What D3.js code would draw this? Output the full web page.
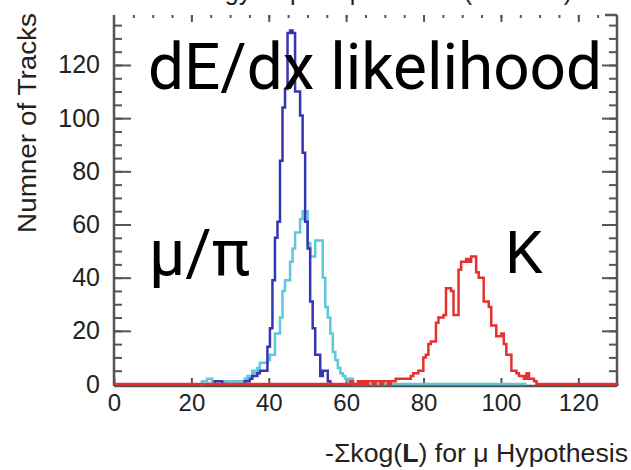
<!DOCTYPE html>
<html>
<head>
<meta charset="utf-8">
<script src="https://cdn.jsdelivr.net/npm/d3@7"></script>
<style>
  html, body { margin: 0; padding: 0; background: #fff; }
  svg { display: block; }
</style>
</head>
<body>
<svg id="chart" width="631" height="470"></svg>
<script>
// Histogram binning: 200 bins over 0..130
const xRange = [0, 130];
const binCount = 200;

// Muon sample (dark blue), counts per bin starting at muonStartBin
const muonStartBin = 37;
const muonCounts = [0, 0, 0, 1, 1, 1, 0, 0, 0, 0, 0, 0, 0, 0, 0, 1, 1, 2, 3, 3,
  4, 5, 5, 5, 14, 21, 39, 55, 61, 84, 104, 111, 132, 133, 132, 110, 110, 101, 87, 61,
  51, 31, 21, 11, 11, 3, 5, 5, 1, 0];

// Pion sample (light cyan)
const pionStartBin = 34;
const pionCounts = [0, 1, 1, 2, 2, 1, 1, 1, 1, 0, 1, 1, 1, 1, 1, 1, 1, 1, 2, 3,
  3, 5, 4, 6, 8, 8, 8, 9, 11, 11, 19, 19, 25, 35, 39, 39, 46, 51, 57, 57,
  62, 65, 65, 53, 48, 48, 54, 54, 54, 40, 29, 25, 19, 12, 9, 6, 4, 3, 2, 1,
  2, 0, 0, 0, 0, 0, 0, 0, 0, 0, 0, 0, 0, 0, 0, 0, 0, 0, 0, 0,
  0, 0, 0, 0, 0, 0, 0, 0, 0, 0, 0, 0, 0, 0, 0, 0, 0, 0, 0, 0,
  0, 0, 0, 0, 0, 0, 0, 0, 0, 0, 0, 0, 0, 0, 0, 0, 0, 0, 0, 0,
  0, 0, 0, 0, 0, 0, 0, 0, 0, 0];

// Kaon sample (red), drawn over the full range
const kaonStartBin = 92;
const kaonCounts = [0, 0, 1, 0, 0, 1, 0, 1, 0, 1, 1, 0, 1, 1, 0, 1, 1, 0, 1, 1,
  2, 2, 2, 2, 2, 2, 3, 4, 4, 5, 5, 10, 11, 15, 16, 16, 23, 25, 25, 26,
  36, 36, 35, 26, 26, 43, 46, 46, 47, 46, 48, 48, 42, 40, 40, 31, 31, 29, 22, 22,
  18, 18, 19, 15, 11, 11, 5, 5, 4, 3, 3, 2, 4, 2, 2, 1, 0];

// Axis ticks
const xMajorTicks = [0, 20, 40, 60, 80, 100, 120];
const yMajorTicks = [0, 20, 40, 60, 80, 100, 120];

// Text
const titleText = "Energy Deposit per Plane (MeV/cm)";
const yTitle = "Numner of Tracks";
const bigLabel = "dE/dx likelihood";
const muPiLabel = "μ/π";
const kaonLabel = "K";

const svg = d3.select("#chart");
const plotLeft = 114, plotRight = 617, plotTop = 15, plotBottom = 384;

const x = d3.scaleLinear().domain(xRange).range([plotLeft, plotRight]);
const y = d3.scaleLinear().domain([0, 138.8]).range([plotBottom, plotTop]);
const binW = (xRange[1] - xRange[0]) / binCount;

function histPoints(start, counts, firstBin, lastBin) {
  const pts = [];
  for (let i = firstBin; i <= lastBin; i++) {
    const j = i - start;
    const v = (j >= 0 && j < counts.length) ? counts[j] : 0;
    const x0 = xRange[0] + i * binW, x1 = x0 + binW;
    pts.push([x0, v], [x1, v]);
  }
  return pts;
}

const line = d3.line().x(d => x(d[0])).y(d => y(d[1]));
const axisFont = "Liberation Sans, Arial, sans-serif";

// Title, running off the top edge
svg.append("text")
  .attr("x", 172).attr("y", 0)
  .attr("font-family", axisFont)
  .attr("font-size", 25).attr("fill", "#222")
  .text(titleText);

// Axis ticks
const tickColor = "#555";
const gLeft = svg.append("g").attr("transform", `translate(${plotLeft},0)`)
  .call(d3.axisLeft(y).tickValues(d3.range(0, 139, 5)).tickSizeInner(-8).tickSizeOuter(0).tickFormat(""));
gLeft.select(".domain").remove();
const gLeftMajor = svg.append("g").attr("transform", `translate(${plotLeft},0)`)
  .call(d3.axisLeft(y).tickValues(yMajorTicks).tickSizeInner(-17).tickSizeOuter(0).tickPadding(14));
gLeftMajor.select(".domain").remove();

const gRight = svg.append("g").attr("transform", `translate(${plotRight},0)`)
  .call(d3.axisRight(y).tickValues(d3.range(0, 139, 5)).tickSizeInner(-8).tickSizeOuter(0).tickFormat(""));
gRight.select(".domain").remove();
const gRightMajor = svg.append("g").attr("transform", `translate(${plotRight},0)`)
  .call(d3.axisRight(y).tickValues(yMajorTicks).tickSizeInner(-15).tickSizeOuter(0).tickFormat(""));
gRightMajor.select(".domain").remove();

const gBottom = svg.append("g").attr("transform", `translate(0,${plotBottom + 2})`)
  .call(d3.axisBottom(x).tickValues(d3.range(0, 131, 5)).tickSizeInner(-3).tickSizeOuter(0).tickFormat(""));
gBottom.select(".domain").remove();
const gBottomMajor = svg.append("g").attr("transform", `translate(0,${plotBottom + 2})`)
  .call(d3.axisBottom(x).tickValues(xMajorTicks).tickSizeInner(-8).tickSizeOuter(0).tickPadding(8));
gBottomMajor.select(".domain").remove();

const gTop = svg.append("g").attr("transform", `translate(0,${plotTop})`)
  .call(d3.axisTop(x).tickValues(d3.range(5, 130, 5)).tickSizeInner(-3).tickSizeOuter(0).tickFormat(""));
gTop.select(".domain").remove();
const gTopMajor = svg.append("g").attr("transform", `translate(0,${plotTop})`)
  .call(d3.axisTop(x).tickValues(xMajorTicks.slice(1)).tickSizeInner(-7).tickSizeOuter(0).tickFormat(""));
gTopMajor.select(".domain").remove();

svg.selectAll(".tick line").attr("stroke", tickColor).attr("stroke-width", 2);
svg.selectAll(".tick text")
  .attr("font-family", axisFont)
  .attr("font-size", 25).attr("fill", "#222");
gBottomMajor.selectAll(".tick text").attr("font-size", 24);

// Frame lines
const frame = svg.append("g").attr("stroke", tickColor).attr("stroke-width", 2.5).attr("fill", "none");
frame.append("line").attr("x1", plotLeft).attr("x2", plotLeft).attr("y1", plotTop).attr("y2", plotBottom + 2);
frame.append("line").attr("x1", plotLeft).attr("x2", plotRight).attr("y1", plotBottom + 2).attr("y2", plotBottom + 2);
frame.append("line").attr("x1", plotRight).attr("x2", plotRight).attr("y1", plotTop).attr("y2", plotBottom + 2);
frame.append("line").attr("x1", plotRight - 12).attr("x2", plotRight).attr("y1", plotTop).attr("y2", plotTop);

// Histograms
svg.append("path")
  .attr("d", line(histPoints(pionStartBin, pionCounts, pionStartBin, pionStartBin + pionCounts.length - 1)))
  .attr("fill", "none").attr("stroke", "#5cc8d8").attr("stroke-width", 2.5);
svg.append("path")
  .attr("d", line(histPoints(muonStartBin, muonCounts, muonStartBin, muonStartBin + muonCounts.length - 1)))
  .attr("fill", "none").attr("stroke", "#3636b0").attr("stroke-width", 2.5);
svg.append("path")
  .attr("d", line(histPoints(kaonStartBin, kaonCounts, 0, binCount - 1)))
  .attr("fill", "none").attr("stroke", "#e8302e").attr("stroke-width", 2.5);

// Axis titles
svg.append("text")
  .attr("transform", "translate(36,13) rotate(-90)")
  .attr("text-anchor", "end")
  .attr("font-family", axisFont)
  .attr("font-size", 26).attr("fill", "#222")
  .attr("textLength", 220).attr("lengthAdjust", "spacingAndGlyphs")
  .text(yTitle);

const xt = svg.append("text")
  .attr("x", 325).attr("y", 462)
  .attr("font-family", axisFont)
  .attr("font-size", 26).attr("fill", "#222")
  .attr("textLength", 303).attr("lengthAdjust", "spacingAndGlyphs");
xt.append("tspan").text("-Σkog(");
xt.append("tspan").attr("font-weight", "bold").text("L");
xt.append("tspan").text(") for μ Hypothesis");

// Large annotations
const bigFont = "Roboto, Open Sans, sans-serif";
svg.append("text").attr("x", 148).attr("y", 89)
  .attr("font-family", bigFont).attr("font-size", 64).attr("fill", "#000")
  .attr("textLength", 454).attr("lengthAdjust", "spacingAndGlyphs")
  .text(bigLabel);
svg.append("text").attr("x", 149).attr("y", 275)
  .attr("font-family", bigFont).attr("font-size", 64).attr("fill", "#000")
  .text(muPiLabel);
svg.append("text").attr("x", 505).attr("y", 273)
  .attr("font-family", bigFont).attr("font-size", 60).attr("fill", "#000")
  .text(kaonLabel);
</script>
</body>
</html>
